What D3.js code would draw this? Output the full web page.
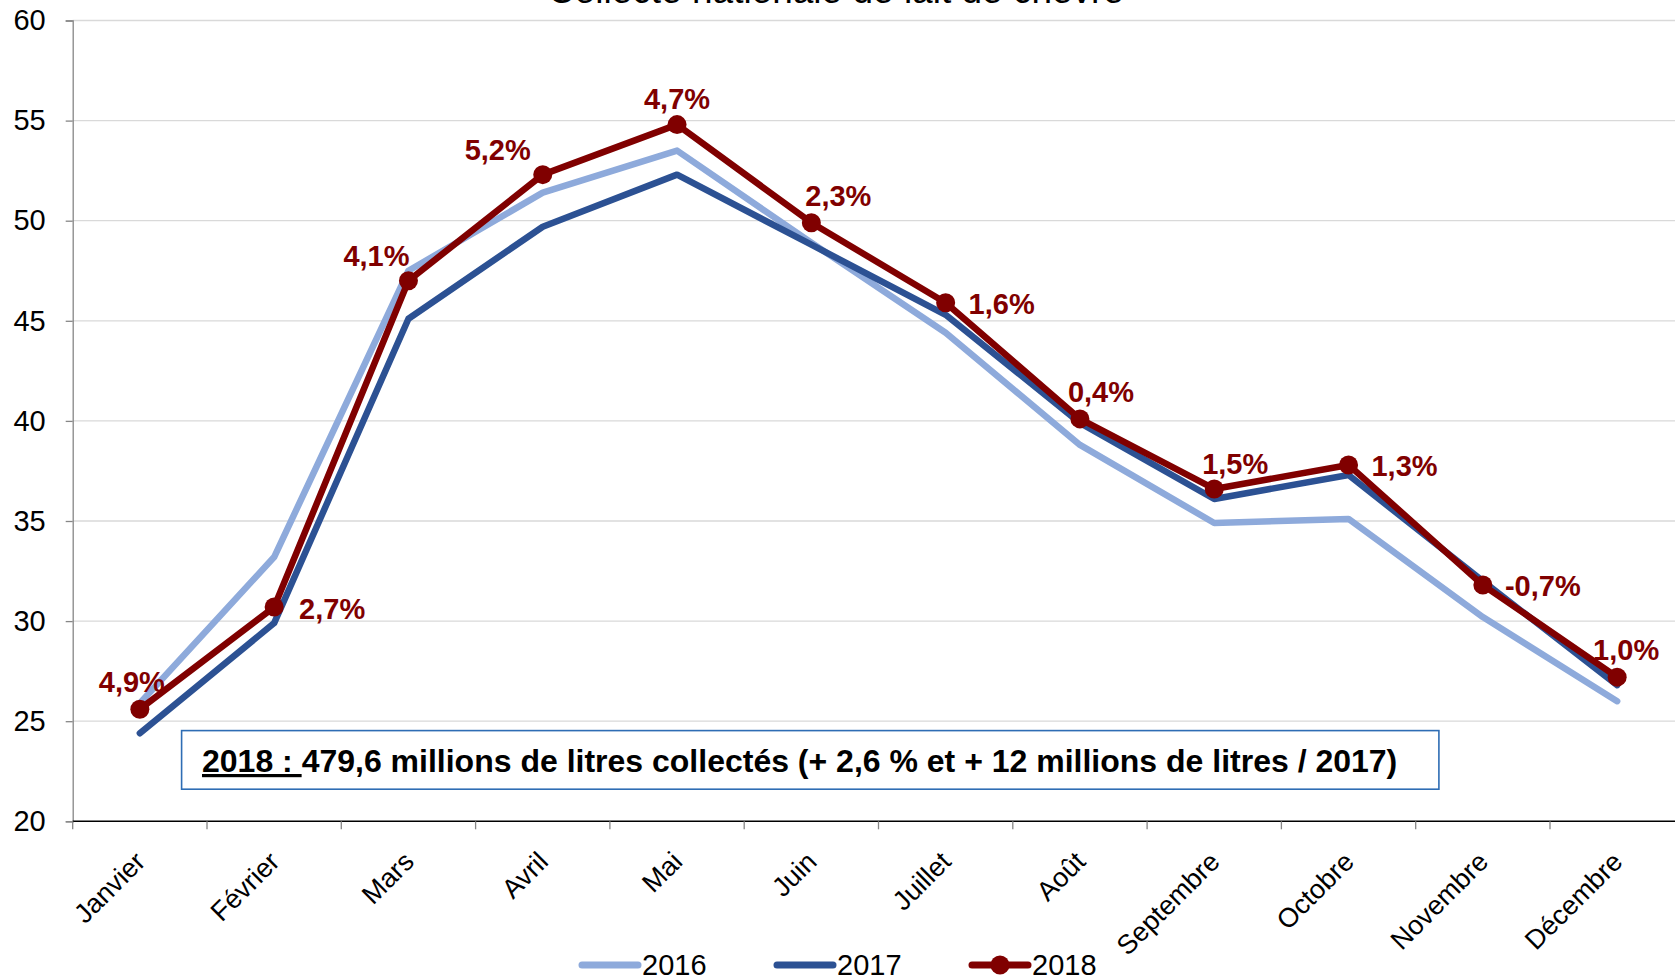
<!DOCTYPE html>
<html lang="fr">
<head>
<meta charset="UTF-8">
<title>Collecte nationale de lait de chèvre</title>
<script src="https://d3js.org/d3.v7.min.js"></script>
<style>
  body { margin: 0; padding: 0; background: #fff; }
  svg { display: block; font-family: Arial, "Liberation Sans", sans-serif; }
</style>
</head>
<body>
<div id="chart"></div>
<script>
  // données (millions de litres)
  const months = ["Janvier", "Février", "Mars", "Avril", "Mai", "Juin", "Juillet", "Août", "Septembre", "Octobre", "Novembre", "Décembre"];
  const values2016 = [25.9, 33.2, 47.5, 51.4, 53.5, 48.9, 44.4, 38.8, 34.9, 35.1, 30.2, 26.0];
  const values2017 = [24.4, 29.9, 45.1, 49.7, 52.3, 48.8, 45.3, 39.9, 36.1, 37.3, 32.0, 26.8];
  const values2018 = [25.6, 30.7, 47.0, 52.3, 54.8, 49.9, 45.9, 40.1, 36.6, 37.8, 31.8, 27.2];
  const pctLabels = ["4,9%", "2,7%", "4,1%", "5,2%", "4,7%", "2,3%", "1,6%", "0,4%", "1,5%", "1,3%", "-0,7%", "1,0%"];
  const yTicks = [20, 25, 30, 35, 40, 45, 50, 55, 60];
  const seriesNames = ["2016", "2017", "2018"];

  const W = 1675, H = 978;
  const colors = { "2016": "#8eaadb", "2017": "#2c5193", "2018": "#800000" };

  // décalage des étiquettes de pourcentage par rapport au point (px)
  const labelNudge = [[-8, -28], [58, 1], [-32, -25], [-45, -25], [0, -26], [27, -27],
                      [56, 1], [21, -27], [21, -25], [56, 1], [60, 0], [9, -28]];

  const svg = d3.select("#chart").append("svg")
    .attr("width", W)
    .attr("height", H);

  const x = d3.scaleBand().domain(months).range([72.7, 1684.3]);
  const cx = m => x(m) + x.bandwidth() / 2;
  const y = d3.scaleLinear().domain([20, 60]).range([821.3, 20.5]);

  // titre (coupé en haut comme sur l'original)
  svg.append("text")
    .attr("x", 836)
    .attr("y", 3)
    .attr("text-anchor", "middle")
    .attr("font-size", 37)
    .attr("fill", "#000")
    .text("Collecte nationale de lait de chèvre");

  // grille horizontale
  svg.append("g")
    .selectAll("line")
    .data(yTicks.filter(d => d > 20))
    .enter().append("line")
    .attr("x1", 72.7)
    .attr("x2", W)
    .attr("y1", d => y(d))
    .attr("y2", d => y(d))
    .attr("stroke", "#d9d9d9")
    .attr("stroke-width", 1.3);

  // axe Y
  const yAxis = svg.append("g")
    .attr("transform", "translate(72.7,0)")
    .call(d3.axisLeft(y).tickValues(yTicks).tickSize(7).tickPadding(20).tickFormat(d3.format("d")));
  yAxis.select(".domain").attr("stroke", "#868686").attr("stroke-width", 1.3);
  yAxis.selectAll(".tick line").attr("stroke", "#868686").attr("stroke-width", 1.3);
  yAxis.selectAll(".tick text")
    .attr("font-size", 29)
    .attr("font-family", "Arial, 'Liberation Sans', sans-serif")
    .attr("fill", "#000");

  // axe X
  const xAxisG = svg.append("g");
  xAxisG.append("line")
    .attr("x1", 72.7).attr("x2", W)
    .attr("y1", y(20)).attr("y2", y(20))
    .attr("stroke", "#000")
    .attr("stroke-width", 1.5);
  xAxisG.selectAll(".xtick")
    .data(months)
    .enter().append("line")
    .attr("class", "xtick")
    .attr("x1", d => x(d)).attr("x2", d => x(d))
    .attr("y1", y(20)).attr("y2", y(20) + 8)
    .attr("stroke", "#868686")
    .attr("stroke-width", 1.3);
  xAxisG.selectAll(".xlabel")
    .data(months)
    .enter().append("text")
    .attr("class", "xlabel")
    .attr("text-anchor", "end")
    .attr("font-size", 27)
    .attr("fill", "#000")
    .attr("transform", d => `translate(${cx(d) + 7},${y(20) + 42}) rotate(-45)`)
    .text(d => d);

  // lignes
  const line = d3.line()
    .x((d, i) => cx(months[i]))
    .y(d => y(d));

  const allSeries = [values2016, values2017, values2018];
  allSeries.forEach((vals, k) => {
    svg.append("path")
      .datum(vals)
      .attr("d", line)
      .attr("fill", "none")
      .attr("stroke", colors[seriesNames[k]])
      .attr("stroke-width", 6.5)
      .attr("stroke-linejoin", "round")
      .attr("stroke-linecap", "round");
  });

  // marqueurs 2018
  svg.selectAll(".dot")
    .data(values2018)
    .enter().append("circle")
    .attr("class", "dot")
    .attr("cx", (d, i) => cx(months[i]))
    .attr("cy", d => y(d))
    .attr("r", 9.5)
    .attr("fill", colors["2018"]);

  // étiquettes d'évolution
  svg.selectAll(".pct")
    .data(values2018)
    .enter().append("text")
    .attr("class", "pct")
    .attr("x", (d, i) => cx(months[i]) + labelNudge[i][0])
    .attr("y", (d, i) => y(d) + labelNudge[i][1])
    .attr("dy", "0.36em")
    .attr("text-anchor", "middle")
    .attr("font-size", 29)
    .attr("font-weight", "bold")
    .attr("fill", "#800000")
    .text((d, i) => pctLabels[i]);

  // encadré
  svg.append("rect")
    .attr("x", 181.6)
    .attr("y", 730.6)
    .attr("width", 1257.3)
    .attr("height", 58.6)
    .attr("fill", "#fff")
    .attr("stroke", "#2e6db4")
    .attr("stroke-width", 1.6);
  const note = svg.append("text")
    .attr("x", 202)
    .attr("y", 772)
    .attr("font-size", 32)
    .attr("font-weight", "bold")
    .attr("fill", "#000");
  note.append("tspan")
    .attr("text-decoration", "underline")
    .text("2018 : ");
  note.append("tspan")
    .text("479,6 millions de litres collectés (+ 2,6 % et + 12 millions de litres / 2017)");

  // légende
  const legend = svg.append("g");
  seriesNames.forEach((name, k) => {
    const lx = 582 + k * 195;
    const ly = 965;
    legend.append("line")
      .attr("x1", lx).attr("x2", lx + 56)
      .attr("y1", ly).attr("y2", ly)
      .attr("stroke", colors[name])
      .attr("stroke-width", 7)
      .attr("stroke-linecap", "round");
    if (name === "2018") {
      legend.append("circle")
        .attr("cx", lx + 28).attr("cy", ly)
        .attr("r", 9.5)
        .attr("fill", colors[name]);
    }
    legend.append("text")
      .attr("x", lx + 60)
      .attr("y", ly + 10)
      .attr("font-size", 29)
      .attr("fill", "#000")
      .text(name);
  });
</script>
</body>
</html>
